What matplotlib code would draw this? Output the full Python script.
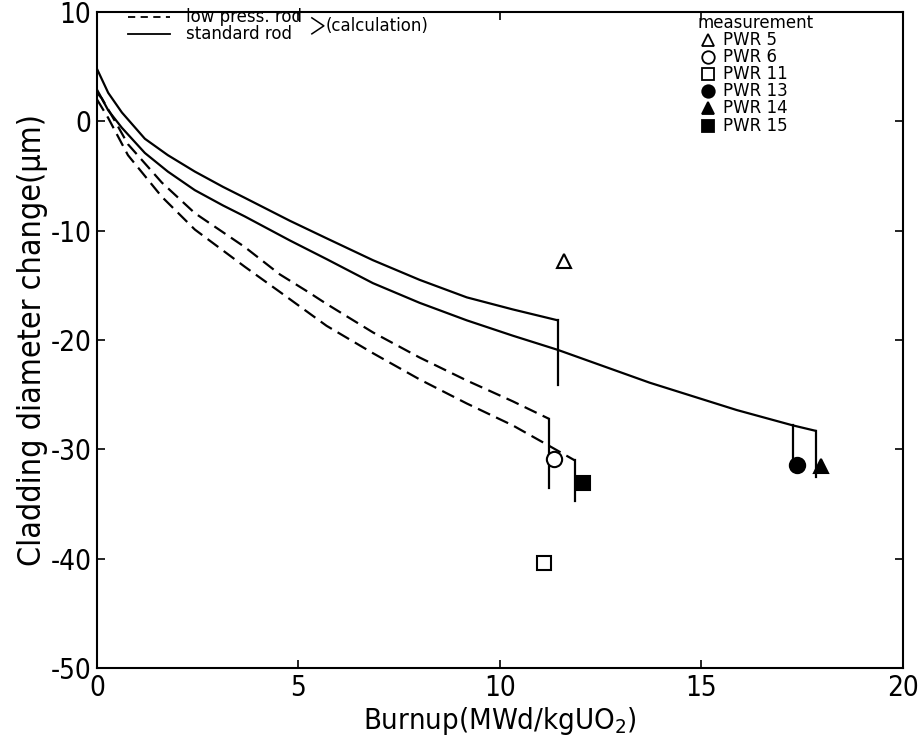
import matplotlib
matplotlib.use("Agg")
import matplotlib.pyplot as plt
from matplotlib.lines import Line2D

plt.rcParams['axes.unicode_minus'] = False
plt.rcParams['font.family'] = ['DejaVu Sans']
plt.rcParams['font.stretch'] = 'condensed'

# ---- calculated curves (burnup, diameter change) ----
std_a_x = [0.0, 0.28, 0.62, 1.19, 1.76, 2.43, 3.13, 3.67, 4.79, 5.70, 6.85, 8.01, 9.18, 10.32, 11.44]
std_a_y = [4.8, 2.6, 0.8, -1.6, -3.1, -4.6, -6.0, -7.0, -9.1, -10.7, -12.7, -14.5, -16.1, -17.2, -18.2]
std_a_drop = [11.44, -18.2, -24.1]

std_b_x = [0.0, 0.28, 0.62, 1.19, 1.76, 2.43, 3.13, 3.67, 4.79, 5.70, 6.85, 8.01, 9.18, 10.32, 11.44,
           13.72, 15.88, 17.27, 17.84]
std_b_y = [2.9, 1.0, -0.6, -2.9, -4.6, -6.3, -7.7, -8.7, -10.9, -12.6, -14.8, -16.6, -18.2, -19.6, -20.9,
           -23.9, -26.4, -27.8, -28.3]
std_b_drop1 = [17.27, -27.8, -31.4]
std_b_drop2 = [17.84, -28.3, -32.5]

low_a_x = [0.0, 0.12, 0.45, 0.77, 1.61, 2.43, 3.67, 4.54, 5.24, 5.70, 6.85, 8.01, 9.18, 10.32, 11.22]
low_a_y = [2.6, 2.1, 0.0, -2.1, -5.6, -8.4, -11.5, -14.0, -15.6, -16.7, -19.3, -21.6, -23.7, -25.6, -27.2]
low_a_drop = [11.22, -27.2, -33.5]

low_b_x = [0.0, 0.28, 0.77, 1.61, 2.43, 3.67, 4.54, 5.70, 6.85, 8.01, 9.18, 10.32, 11.19, 11.86]
low_b_y = [2.0, 0.3, -3.1, -6.9, -9.9, -13.3, -15.6, -18.7, -21.2, -23.6, -25.8, -27.8, -29.6, -31.0]
low_b_drop = [11.86, -31.0, -34.7]

# ---- measurements ----
meas_names = ["PWR 5", "PWR 6", "PWR 11", "PWR 13", "PWR 14", "PWR 15"]
meas_x = [11.6, 11.34, 11.1, 17.37, 17.97, 12.07]
meas_y = [-12.8, -30.9, -40.4, -31.4, -31.5, -33.1]
meas_marker = ["^", "o", "s", "o", "^", "s"]
meas_filled = [False, False, False, True, True, True]

fig = plt.figure(figsize=(9.23, 7.40), dpi=100)
ax = fig.add_axes([0.105, 0.097, 0.873, 0.887])
lw = 1.6
dash = (0, (6, 3))
ax.plot(std_a_x, std_a_y, color="black", lw=lw)
ax.plot(std_b_x, std_b_y, color="black", lw=lw)
ax.plot(low_a_x, low_a_y, color="black", lw=lw, ls=dash)
ax.plot(low_b_x, low_b_y, color="black", lw=lw, ls=dash)
for d in [std_a_drop, std_b_drop1, std_b_drop2, low_a_drop, low_b_drop]:
    ax.plot([d[0], d[0]], [d[1], d[2]], color="black", lw=lw)

for x, y, m, f in zip(meas_x, meas_y, meas_marker, meas_filled):
    ax.plot(x, y, marker=m, ms=11 if m == "o" else 10, mfc="black" if f else "white",
            mec="black", mew=1.5, ls="none", zorder=5)

ax.set_xlim(0, 20)
ax.set_ylim(-50, 10)
ax.set_xticks([0, 5, 10, 15, 20])
ax.set_yticks([10, 0, -10, -20, -30, -40, -50])
ax.tick_params(direction="in", length=6, width=1.2, labelsize=20, top=True, right=True,
               labeltop=False, labelright=False)
ax.tick_params(axis="x", pad=4)
ax.tick_params(axis="y", pad=4)
for s in ax.spines.values():
    s.set_linewidth(1.5)
ax.set_xlabel("Burnup(MWd/kgUO$_2$)", fontsize=21, labelpad=2)
ax.set_ylabel("Cladding diameter change(μm)", fontsize=23, labelpad=2)

# calculation legend
tr = ax.transAxes
def fx(px):
    return (px - 97) / 806
def fy(py):
    return (668 - py) / 656
lfont = dict(fontsize=12, fontstretch="normal", va="center", transform=tr)
ax.add_line(Line2D([fx(128), fx(170)], [fy(17), fy(17)], transform=tr, color="black",
                   lw=1.3, ls=(0, (4, 3))))
ax.add_line(Line2D([fx(128), fx(170)], [fy(34), fy(34)], transform=tr, color="black", lw=1.3))
ax.text(fx(186), fy(17), "low press. rod", **lfont)
ax.text(fx(186), fy(34), "standard rod", **lfont)
ax.add_line(Line2D([fx(312), fx(324), fx(312)], [fy(18), fy(26), fy(34)], transform=tr,
                   color="black", lw=1.1))
ax.text(fx(326), fy(26), "(calculation)", **lfont)

# measurement legend
ax.text(fx(698), fy(23), "measurement", **lfont)
leg_y = [40, 57, 74, 91, 108, 126]
for name, m, f, py in zip(meas_names, meas_marker, meas_filled, leg_y):
    ax.plot([fx(708)], [fy(py)], transform=tr, marker=m, ms=9 if m == "o" else 8,
            mfc="black" if f else "white", mec="black", mew=1.3, ls="none")
    ax.text(fx(723), fy(py), name, **lfont)

fig.savefig("out.png", dpi=100)
